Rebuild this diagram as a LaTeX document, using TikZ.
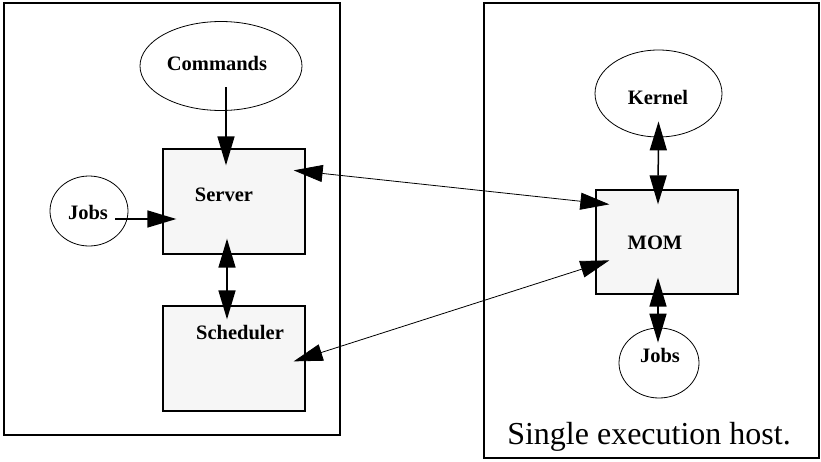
\documentclass[tikz,border=0pt]{standalone}
\usepackage{fontspec}
\setmainfont{Liberation Serif}
\usetikzlibrary{arrows.meta,shapes.geometric}
\definecolor{boxfill}{HTML}{F6F6F6}
\tikzset{
  frame/.style={draw, line width=1.5pt, inner sep=0pt},
  proc/.style={draw, line width=1.3pt, fill=boxfill, inner sep=0pt},
  oval/.style={draw, ellipse, line width=0.8pt, inner sep=0pt},
  lbl/.style={font=\fontsize{20.5}{24}\selectfont\bfseries, inner sep=0pt},
  bigtip/.tip={Triangle[length=29pt,width=17pt]},
  short/.style={line width=1.5pt},
  long/.style={line width=0.8pt},
}
\begin{document}
\begin{tikzpicture}[x=1pt,y=-1pt]
\useasboundingbox (0,0) rectangle (821,461);
% frames
\node[frame, minimum width=336pt, minimum height=432pt] (leftframe) at (172,219) {};
\node[frame, minimum width=335pt, minimum height=455pt] (rightframe) at (651.5,230.5) {};
% shapes
\node[oval, minimum width=162pt, minimum height=89pt] (commands) at (221,66) {};
\node[proc, minimum width=142pt, minimum height=105pt] (server) at (234,201.5) {};
\node[oval, minimum width=78pt, minimum height=70pt] (jobsL) at (89,211) {};
\node[proc, minimum width=142pt, minimum height=105pt] (sched) at (234,358.5) {};
\node[oval, minimum width=127pt, minimum height=87pt] (kernel) at (658.5,93.5) {};
\node[proc, minimum width=142pt, minimum height=104pt] (mom) at (667,242) {};
\node[oval, minimum width=80pt, minimum height=70pt] (jobsR) at (659,363) {};
% labels
\node[lbl] (commandsT) at (217,63) {Commands};
\node[lbl] (serverT) at (224,195) {Server};
\node[lbl] (jobsLT) at (88,212) {Jobs};
\node[lbl] (schedT) at (240,333) {Scheduler};
\node[lbl] (kernelT) at (658,97) {Kernel};
\node[lbl] (momT) at (655,243) {MOM};
\node[lbl] (jobsRT) at (660,355) {Jobs};
\node[font=\fontsize{32}{38}\selectfont, inner sep=0pt] (hostT) at (649,437) {Single execution host.};
% connectors
\draw[short, -bigtip] ([shift={(5,21)}]commands.center) -- ([shift={(-8,17)}]server.north);
\draw[short, -bigtip] ([shift={(26,8)}]jobsL.center) -- ([shift={(14,17.5)}]server.west);
\draw[short, bigtip-bigtip] ([shift={(-7,-16)}]server.south) -- ([shift={(-7,14)}]sched.north);
\draw[long, bigtip-bigtip] ([shift={(-12,22)}]server.north east) -- ([shift={(14,15)}]mom.north west);
\draw[long, bigtip-bigtip] ([shift={(-12,56)}]sched.north east) -- ([shift={(14,71)}]mom.north west);
\draw[short, bigtip-bigtip] ([shift={(0,-16)}]kernel.south) -- ([shift={(-9,15)}]mom.north);
\draw[short, bigtip-bigtip] ([shift={(-9,-17)}]mom.south) -- ([shift={(-1,15)}]jobsR.north);
\end{tikzpicture}
\end{document}
